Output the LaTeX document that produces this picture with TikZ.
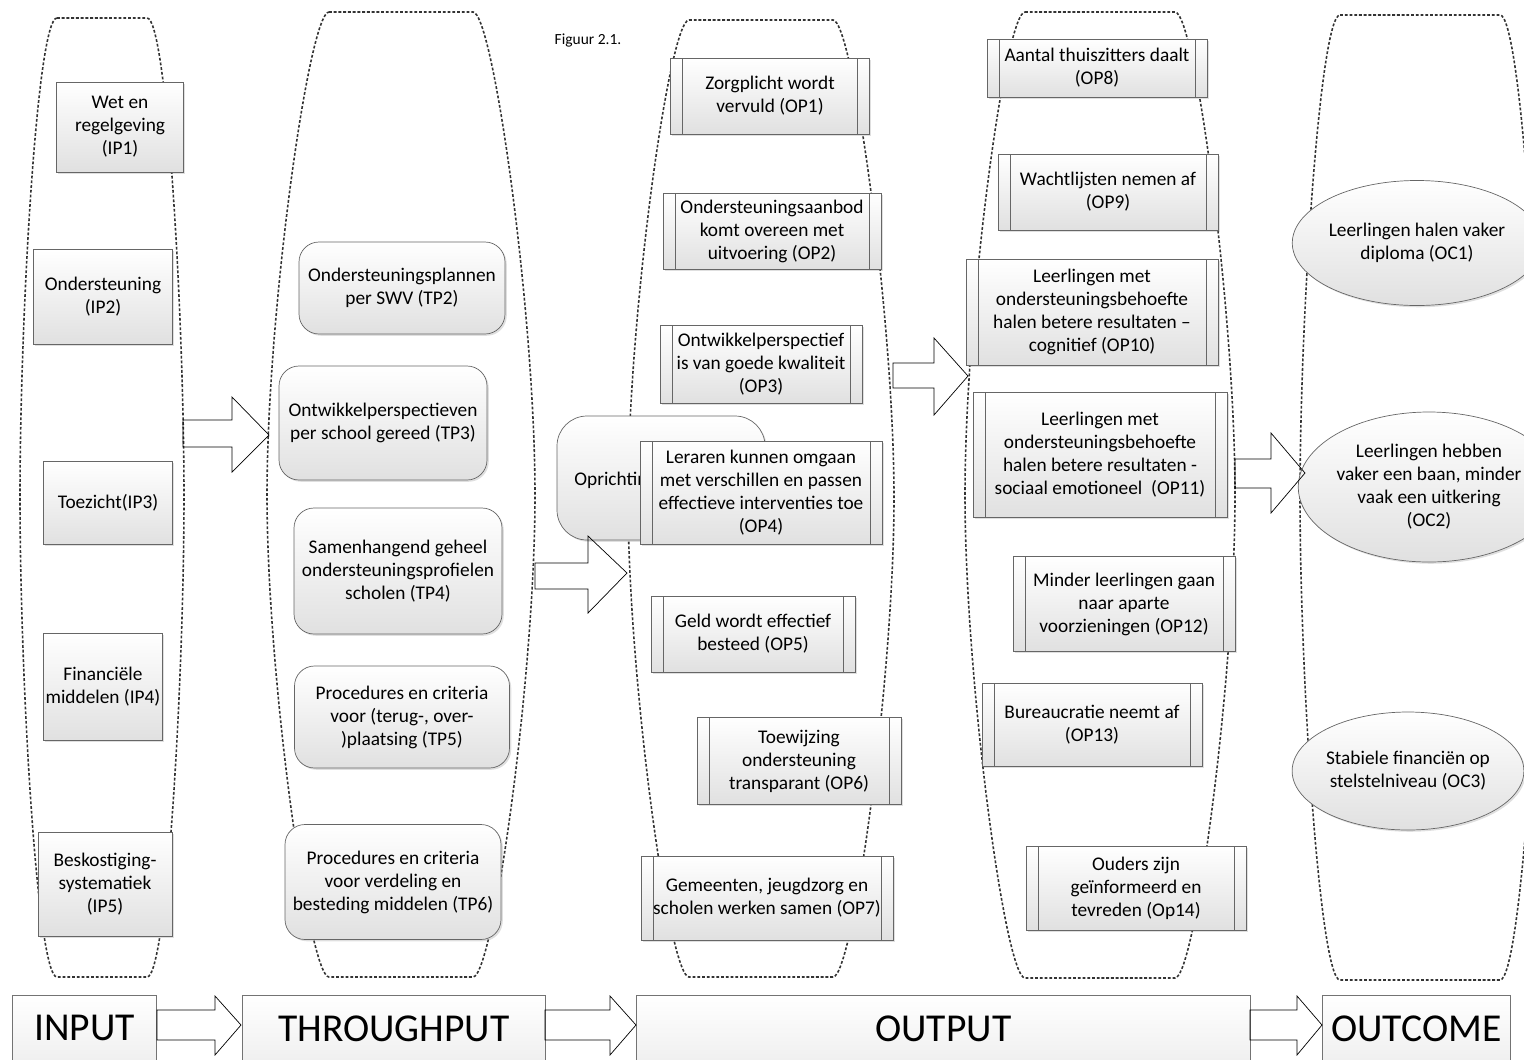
\documentclass[tikz,border=0pt]{standalone}
\usepackage{fontspec}
\setmainfont{Carlito}
\usetikzlibrary{shapes.geometric,shadows}

\begin{document}
\begin{tikzpicture}[
    x=0.02cm, y=-0.02cm,
    font=\fontsize{11}{13.1}\selectfont,
    sz/.style 2 args={minimum width=#1*0.02cm, minimum height=#2*0.02cm},
    column/.style={draw=black!80, line width=0.9pt, dash pattern=on 1.6pt off 1.1pt},
    base/.style={draw=black!60, top color=white, bottom color=black!12, align=center, inner sep=1pt,
        drop shadow={shadow xshift=1pt, shadow yshift=-1pt, opacity=0.25}},
    inbox/.style={base},
    tpbox/.style={base, rounded corners=0.4cm},
    opbox/.style={base, path picture={
        \draw[black!60] ([xshift=0.24cm]path picture bounding box.north west) -- ([xshift=0.24cm]path picture bounding box.south west)
            ([xshift=-0.24cm]path picture bounding box.north east) -- ([xshift=-0.24cm]path picture bounding box.south east);}},
    ocbox/.style={base, ellipse, inner sep=0pt},
    blockarrow/.style={draw=black!78, line width=1pt, top color=white, bottom color=black!8},
    phasebox/.style={draw=black!55, top color=white, bottom color=black!6, inner sep=0pt,
        font=\fontsize{22.5}{27}\selectfont},
    phasearrow/.style={draw=black!45, top color=white, bottom color=black!10},
]
    \useasboundingbox (0,0) rectangle (1524,1059);

    %%%
    % dotted outlines of the columns
    \foreach \cx/\a/\R/\T/\B/\M in {102/45/82/18/977/497, 401/72/134/12/977/495, 761/72/133/20/977/498,
                                    1100/75/135/12/978/495, 1420/80/120/15/980/497}
        \draw[column] (\cx-\a,\T) -- (\cx+\a,\T)
            .. controls (\cx+\a+20,\T) and (\cx+\R,\T+300) .. (\cx+\R,\M)
            .. controls (\cx+\R,\B-300) and (\cx+\a+20,\B) .. (\cx+\a,\B)
            -- (\cx-\a,\B)
            .. controls (\cx-\a-20,\B) and (\cx-\R,\B-300) .. (\cx-\R,\M)
            .. controls (\cx-\R,\T+300) and (\cx-\a-20,\T) .. cycle;

    \node[font=\fontsize{8.8}{10}\selectfont] (caption) at (588,41) {Figuur 2.1.};

    %%%
    % Input
    \node[inbox, sz={127}{90}]  (IP1) at (120,127) {Wet en\\regelgeving\\(IP1)};
    \node[inbox, sz={139}{95}]  (IP2) at (103,297) {Ondersteuning\\(IP2)};
    \node[inbox, sz={129}{83}]  (IP3) at (108,503) {Toezicht(IP3)};
    \node[inbox, sz={119}{107}] (IP4) at (103,687) {Financiële\\middelen (IP4)};
    \node[inbox, sz={134}{104}] (IP5) at (105,884) {Beskostiging-\\systematiek\\(IP5)};

    %%%
    % Throughput
    \node[tpbox, sz={206}{92}]  (TP2) at (402,288) {Ondersteuningsplannen\\per SWV (TP2)};
    \node[tpbox, sz={208}{114}] (TP3) at (383,423) {Ontwikkelperspectieven\\per school gereed (TP3)};
    \node[tpbox, sz={208}{126}] (TP4) at (398,571) {Samenhangend geheel\\ondersteuningsprofielen\\scholen (TP4)};
    \node[tpbox, sz={215}{102}] (TP5) at (402,717) {Procedures en criteria\\voor (terug-, over-\\)plaatsing (TP5)};
    \node[tpbox, sz={216}{115}] (TP6) at (393,882) {Procedures en criteria\\voor verdeling en\\besteding middelen (TP6)};

    % box half hidden behind OP4
    \node[tpbox, sz={208}{124}, rounded corners=0.6cm] (TP1) at (661,478) {};
    \node[anchor=west, inner sep=0pt] (TP1text) at (574,480) {Oprichting};

    %%%
    % Output
    \node[opbox, sz={199}{76}]  (OP1) at (770,96)  {Zorgplicht wordt\\vervuld (OP1)};
    \node[opbox, sz={218}{76}]  (OP2) at (772,231) {Ondersteuningsaanbod\\komt overeen met\\uitvoering (OP2)};
    \node[opbox, sz={202}{78}]  (OP3) at (761,364) {Ontwikkelperspectief\\is van goede kwaliteit\\(OP3)};
    \node[opbox, sz={242}{103}] (OP4) at (761,493) {Leraren kunnen omgaan\\met verschillen en passen\\effectieve interventies toe\\(OP4)};
    \node[opbox, sz={204}{76}]  (OP5) at (753,634) {Geld wordt effectief\\besteed (OP5)};
    \node[opbox, sz={204}{87}]  (OP6) at (799,761) {Toewijzing\\ondersteuning\\transparant (OP6)};
    \node[opbox, sz={252}{84}]  (OP7) at (767,898) {Gemeenten, jeugdzorg en\\scholen werken samen (OP7)};

    \node[opbox, sz={220}{58}]  (OP8)  at (1097,68)  {Aantal thuiszitters daalt\\(OP8)};
    \node[opbox, sz={220}{76}]  (OP9)  at (1108,192) {Wachtlijsten nemen af\\(OP9)};
    \node[opbox, sz={252}{106}] (OP10) at (1092,312) {Leerlingen met\\ondersteuningsbehoefte\\halen betere resultaten –\\cognitief (OP10)};
    \node[opbox, sz={254}{125}] (OP11) at (1100,455) {Leerlingen met\\ondersteuningsbehoefte\\halen betere resultaten -\\sociaal emotioneel\ \ (OP11)};
    \node[opbox, sz={222}{95}]  (OP12) at (1124,604) {Minder leerlingen gaan\\naar aparte\\voorzieningen (OP12)};
    \node[opbox, sz={220}{83}]  (OP13) at (1092,725) {Bureaucratie neemt af\\(OP13)};
    \node[opbox, sz={220}{84}]  (OP14) at (1136,888) {Ouders zijn\\geïnformeerd en\\tevreden (Op14)};

    %%%
    % Outcome
    \node[ocbox, sz={224}{125}] (OC1) at (1417,243) {Leerlingen halen vaker\\diploma (OC1)};
    \node[ocbox, sz={244}{150}] (OC2) at (1429,487) {Leerlingen hebben\\vaker een baan, minder\\vaak een uitkering\\(OC2)};
    \node[ocbox, sz={215}{118}] (OC3) at (1408,771) {Stabiele financiën op\\stelstelniveau (OC3)};

    %%%
    % block arrows between the columns
    {[blockarrow]
        \draw (183,420) -- (232,420) -- (232,397) -- (269,435) -- (232,472) -- (232,447) -- (183,447) -- cycle;
        \draw (535,563) -- (588,563) -- (588,536) -- (627,573) -- (588,613) -- (588,589) -- (535,589) -- cycle;
        \draw (893,363) -- (934,363) -- (934,338) -- (968,376) -- (934,415) -- (934,388) -- (893,388) -- cycle;
        \draw (1235,459) -- (1271,459) -- (1271,433) -- (1305,473) -- (1271,513) -- (1271,488) -- (1235,488) -- cycle;
    }

    %%%
    % phases at the bottom
    \node[phasebox, sz={144}{66}, anchor=north west] (input)      at (12,995)   {INPUT};
    \node[phasebox, sz={303}{66}, anchor=north west] (throughput) at (242,995)  {THROUGHPUT};
    \node[phasebox, sz={614}{66}, anchor=north west] (output)     at (636,995)  {OUTPUT};
    \node[phasebox, sz={188}{66}, anchor=north west] (outcome)    at (1322,995) {OUTCOME};
    {[phasearrow]
        \draw (157,1010) -- (215,1010) -- (215,996) -- (241,1025) -- (215,1055) -- (215,1040) -- (157,1040) -- cycle;
        \draw (545,1010) -- (610,1010) -- (610,996) -- (636,1025) -- (610,1055) -- (610,1040) -- (545,1040) -- cycle;
        \draw (1250,1010) -- (1297,1010) -- (1297,996) -- (1322,1025) -- (1297,1055) -- (1297,1040) -- (1250,1040) -- cycle;
    }

\end{tikzpicture}
\end{document}
